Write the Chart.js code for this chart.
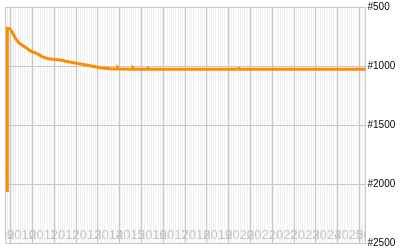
<!DOCTYPE html>
<html>
<head>
<meta charset="utf-8">
<script src="https://cdn.jsdelivr.net/npm/chart.js@4"></script>
<style>
    body { margin: 0; background: #ffffff; }
    canvas { display: block; }
</style>
</head>
<body>
<canvas id="RankChart" width="400" height="250"></canvas>
<script>
// rank history, x is the date as a decimal year
const years = [2009.75, 2009.75, 2009.85, 2009.85, 2009.85, 2009.97, 2010.06, 2010.16, 2010.25, 2010.34,
    2010.43, 2010.57, 2010.71, 2010.89, 2011.03, 2011.16, 2011.30, 2011.44, 2011.62, 2011.81,
    2012.04, 2012.27, 2012.49, 2012.72, 2012.95, 2013.18, 2013.41, 2013.64, 2013.87, 2014.10,
    2014.56, 2014.88, 2014.92, 2014.97, 2015.57, 2015.61, 2015.66, 2016.26, 2016.30, 2016.35,
    2016.85, 2020.42, 2020.47, 2020.52, 2026.30];
const ranks = [1838, 1912, 1880, 2068, 682, 684, 710, 745, 774, 795,
    812, 828, 845, 870, 883, 891, 904, 920, 932, 941,
    945, 949, 957, 966, 974, 982, 990, 998, 1006, 1014,
    1023, 1026, 1016, 1026, 1027, 1017, 1027, 1027, 1018, 1027,
    1027, 1027, 1020, 1027, 1027];

const yearLabels = ['2009', '2010', '2011', '2012', '2013', '2014', '2015', '2016', '2017',
    '2018', '2019', '2020', '2021', '2022', '2023', '2024', '2025', '2026'];
const rankTicks = [500, 1000, 1500, 2000, 2500];

const xMin = 2009.766;
const xMax = 2026.27;

const canvas = document.getElementById('RankChart');
const ctx = canvas.getContext('2d');

// grey plot background, left border and the faint year labels inside the plot
const plotPlugin = {
    id: 'plotDecor',
    beforeDraw(chart) {
        const a = chart.chartArea;
        const c = chart.ctx;
        c.save();
        c.fillStyle = '#f0f0f0';
        c.fillRect(a.left, a.top, a.right - a.left, a.bottom - a.top);
        c.restore();
    },
    beforeDatasetsDraw(chart) {
        const a = chart.chartArea;
        const c = chart.ctx;
        const xScale = chart.scales.x;
        c.save();
        c.fillStyle = '#c8c8c8';
        c.fillRect(Math.floor(a.left), Math.floor(a.top), 1, Math.ceil(a.bottom - a.top));
        c.beginPath();
        c.rect(a.left, a.top, a.right - a.left, a.bottom - a.top);
        c.clip();
        c.font = '13px "Liberation Sans", Arial, sans-serif';
        c.fillStyle = '#c4c4c4';
        c.textAlign = 'center';
        c.textBaseline = 'alphabetic';
        yearLabels.forEach(label => {
            const px = xScale.getPixelForValue(Number(label) + 0.5);
            c.fillText(label, px, a.bottom - 4.5);
        });
        c.restore();
    }
};

function isYear(v) {
    return Math.abs(v - Math.round(v)) < 0.001;
}

const chart = new Chart(ctx, {
    type: 'line',
    data: {
        datasets: [
            {
                data: years.map((y, i) => ({ x: y, y: ranks[i] })),
                borderColor: '#ff8c00',
                borderWidth: 3,
                pointRadius: 0,
                tension: 0,
                fill: false
            }
        ]
    },
    options: {
        responsive: false,
        animation: false,
        layout: {
            padding: { left: 5.5, top: 5.5, bottom: 5.5, right: 0 }
        },
        plugins: {
            legend: { display: false },
            tooltip: { enabled: false }
        },
        scales: {
            x: {
                type: 'linear',
                min: xMin,
                max: xMax,
                afterBuildTicks: scale => {
                    // one grid line per month, year lines drawn darker
                    let t = [];
                    for (let y = 2009; y <= 2026; y++) {
                        for (let m = 0; m < 12; m++) {
                            const v = y + m / 12;
                            if (v > xMin && v < xMax) t.push({ value: v });
                        }
                    }
                    scale.ticks = t;
                },
                ticks: { display: false },
                grid: {
                    drawTicks: false,
                    color: c => isYear(c.tick.value) ? '#c8c8c8' : '#ffffff',
                    lineWidth: 1
                },
                border: { display: false }
            },
            y: {
                type: 'linear',
                position: 'right',
                reverse: true,
                min: 500,
                max: 2500,
                afterBuildTicks: scale => {
                    scale.ticks = rankTicks.map(v => ({ value: v }));
                },
                afterFit: scale => {
                    scale.width = 34.5;
                },
                ticks: {
                    color: '#000000',
                    padding: 2,
                    font: { family: '"Liberation Sans", Arial, sans-serif', size: 10, lineHeight: 1 },
                    callback: v => '#' + v
                },
                grid: {
                    drawTicks: false,
                    color: '#c8c8c8'
                },
                border: { display: true, color: '#c8c8c8' }
            }
        }
    },
    plugins: [plotPlugin]
});
</script>
</body>
</html>
